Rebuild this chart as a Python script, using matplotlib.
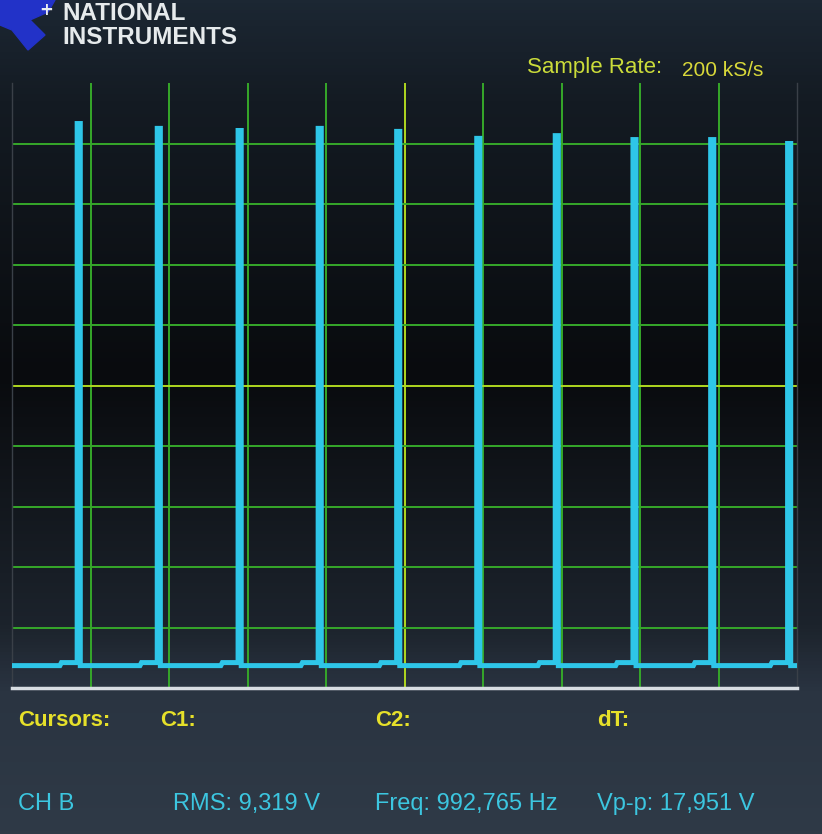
import numpy as np
import matplotlib.pyplot as plt
from matplotlib.colors import LinearSegmentedColormap
from matplotlib.patches import Polygon

# scope settings: 1 ms/div, 2 V/div, 10 x 10 divisions
ms_per_div = 1.0
v_per_div = 2.0

# pulse train
pulse_start_ms = [0.83, 1.85, 2.88, 3.90, 4.90, 5.92, 6.92, 7.91, 8.90, 9.88]
pulse_peak_v = [8.66, 8.50, 8.43, 8.50, 8.40, 8.17, 8.26, 8.13, 8.13, 8.00]
base_low_v = -9.26
base_high_v = -9.16

sample_rate = "200 kS/s"
rms_text = "RMS: 9,319 V"
freq_text = "Freq: 992,765 Hz"
vpp_text = "Vp-p: 17,951 V"

W, H = 822, 834
fig = plt.figure(figsize=(W / 100, H / 100), dpi=100)

# background gradient (photo of a screen, dark in the middle)
bg = fig.add_axes([0, 0, 1, 1])
cmap = LinearSegmentedColormap.from_list(
    "scr", [(0.0, "#1c2733"), (0.12, "#141b23"), (0.45, "#090b0e"),
            (0.75, "#1c232c"), (0.83, "#2a3441"), (1.0, "#2f3a47")])
grad = np.linspace(0, 1, 256).reshape(-1, 1)
bg.imshow(grad, aspect="auto", cmap=cmap, extent=[0, 1, 0, 1], origin="upper")
bg.set_xlim(0, 1)
bg.set_ylim(0, 1)
bg.axis("off")

def fx(px):
    return px / W

def fy(py):
    return 1 - py / H

font = ["Liberation Sans", "DejaVu Sans"]

# NI logo (blue shape) and name
logo = Polygon([[fx(0), fy(0)], [fx(55), fy(0)], [fx(48), fy(12)], [fx(30), fy(20)],
                [fx(45), fy(35)], [fx(28), fy(50)], [fx(12), fy(30)], [fx(0), fy(25)]],
               closed=True, color="#2232c8", transform=fig.transFigure)
bg.add_patch(logo)
bg.text(fx(46), fy(10), "+", color="#e8ecf0", fontsize=12, fontweight="bold",
        ha="center", va="center", transform=fig.transFigure)
fig.text(fx(62), fy(13), "NATIONAL", color="#e6eaec", fontsize=17.5, fontweight="bold",
         va="center", family=font)
fig.text(fx(62), fy(37), "INSTRUMENTS", color="#e6eaec", fontsize=17.5, fontweight="bold",
         va="center", family=font)

fig.text(fx(527), fy(68), "Sample Rate:", color="#cbdc3a", fontsize=16,
         va="center", family=font)
fig.text(fx(682), fy(71), sample_rate, color="#d8d83a", fontsize=15,
         va="center", family=font)

# plot area
x0, x1, y0, y1 = 12, 797, 83, 688
ax = fig.add_axes([fx(x0), fy(y1), (x1 - x0) / W, (y1 - y0) / H])
ax.set_facecolor("none")
ax.set_xlim(0, 10 * ms_per_div)
ax.set_ylim(-5 * v_per_div, 5 * v_per_div)
for s in ["left", "right"]:
    ax.spines[s].set_color("#3a4048")
    ax.spines[s].set_linewidth(1)
ax.spines["top"].set_visible(False)
ax.spines["bottom"].set_color("#d8dde2")
ax.spines["bottom"].set_linewidth(2.5)
ax.set_xticks([])
ax.set_yticks([])

for i in range(1, 10):
    c = "#b0d820" if i == 5 else "#36a82a"
    ax.axvline(i * ms_per_div, color=c, lw=1.4, zorder=1)
for i in range(-4, 5):
    c = "#b0d820" if i == 0 else "#36a82a"
    ax.axhline(i * v_per_div, color=c, lw=1.4, zorder=1)

# build the waveform from the pulse list
pw = 0.04
pre = 0.22
t = [0.0]
v = [base_low_v]
for t0, vp in zip(pulse_start_ms, pulse_peak_v):
    t += [t0 - pre, t0 - pre + 0.02, t0, t0, t0 + pw, t0 + pw]
    v += [base_low_v, base_high_v, base_high_v, vp, vp, base_low_v]
t.append(10 * ms_per_div)
v.append(base_low_v)
ax.plot(t, v, color="#2ec6e8", lw=3.6, solid_joinstyle="miter", zorder=3)

# readouts under the screen
yel = "#e6e02a"
cy = "#3cc6e0"
fs = 16
fw = "bold"
fig.text(fx(18), fy(720), "Cursors:", color=yel, fontsize=fs, fontweight=fw, va="center", family=font)
fig.text(fx(160), fy(720), "C1:", color=yel, fontsize=fs, fontweight=fw, va="center", family=font)
fig.text(fx(375), fy(720), "C2:", color=yel, fontsize=fs, fontweight=fw, va="center", family=font)
fig.text(fx(597), fy(720), "dT:", color=yel, fontsize=fs, fontweight=fw, va="center", family=font)

fig.text(fx(18), fy(804), "CH B", color=cy, fontsize=17, va="center", family=font)
fig.text(fx(173), fy(804), rms_text, color=cy, fontsize=17, va="center", family=font)
fig.text(fx(375), fy(804), freq_text, color=cy, fontsize=17, va="center", family=font)
fig.text(fx(597), fy(804), vpp_text, color=cy, fontsize=17, va="center", family=font)

fig.savefig("out.png", dpi=100, facecolor="#1a222b")
